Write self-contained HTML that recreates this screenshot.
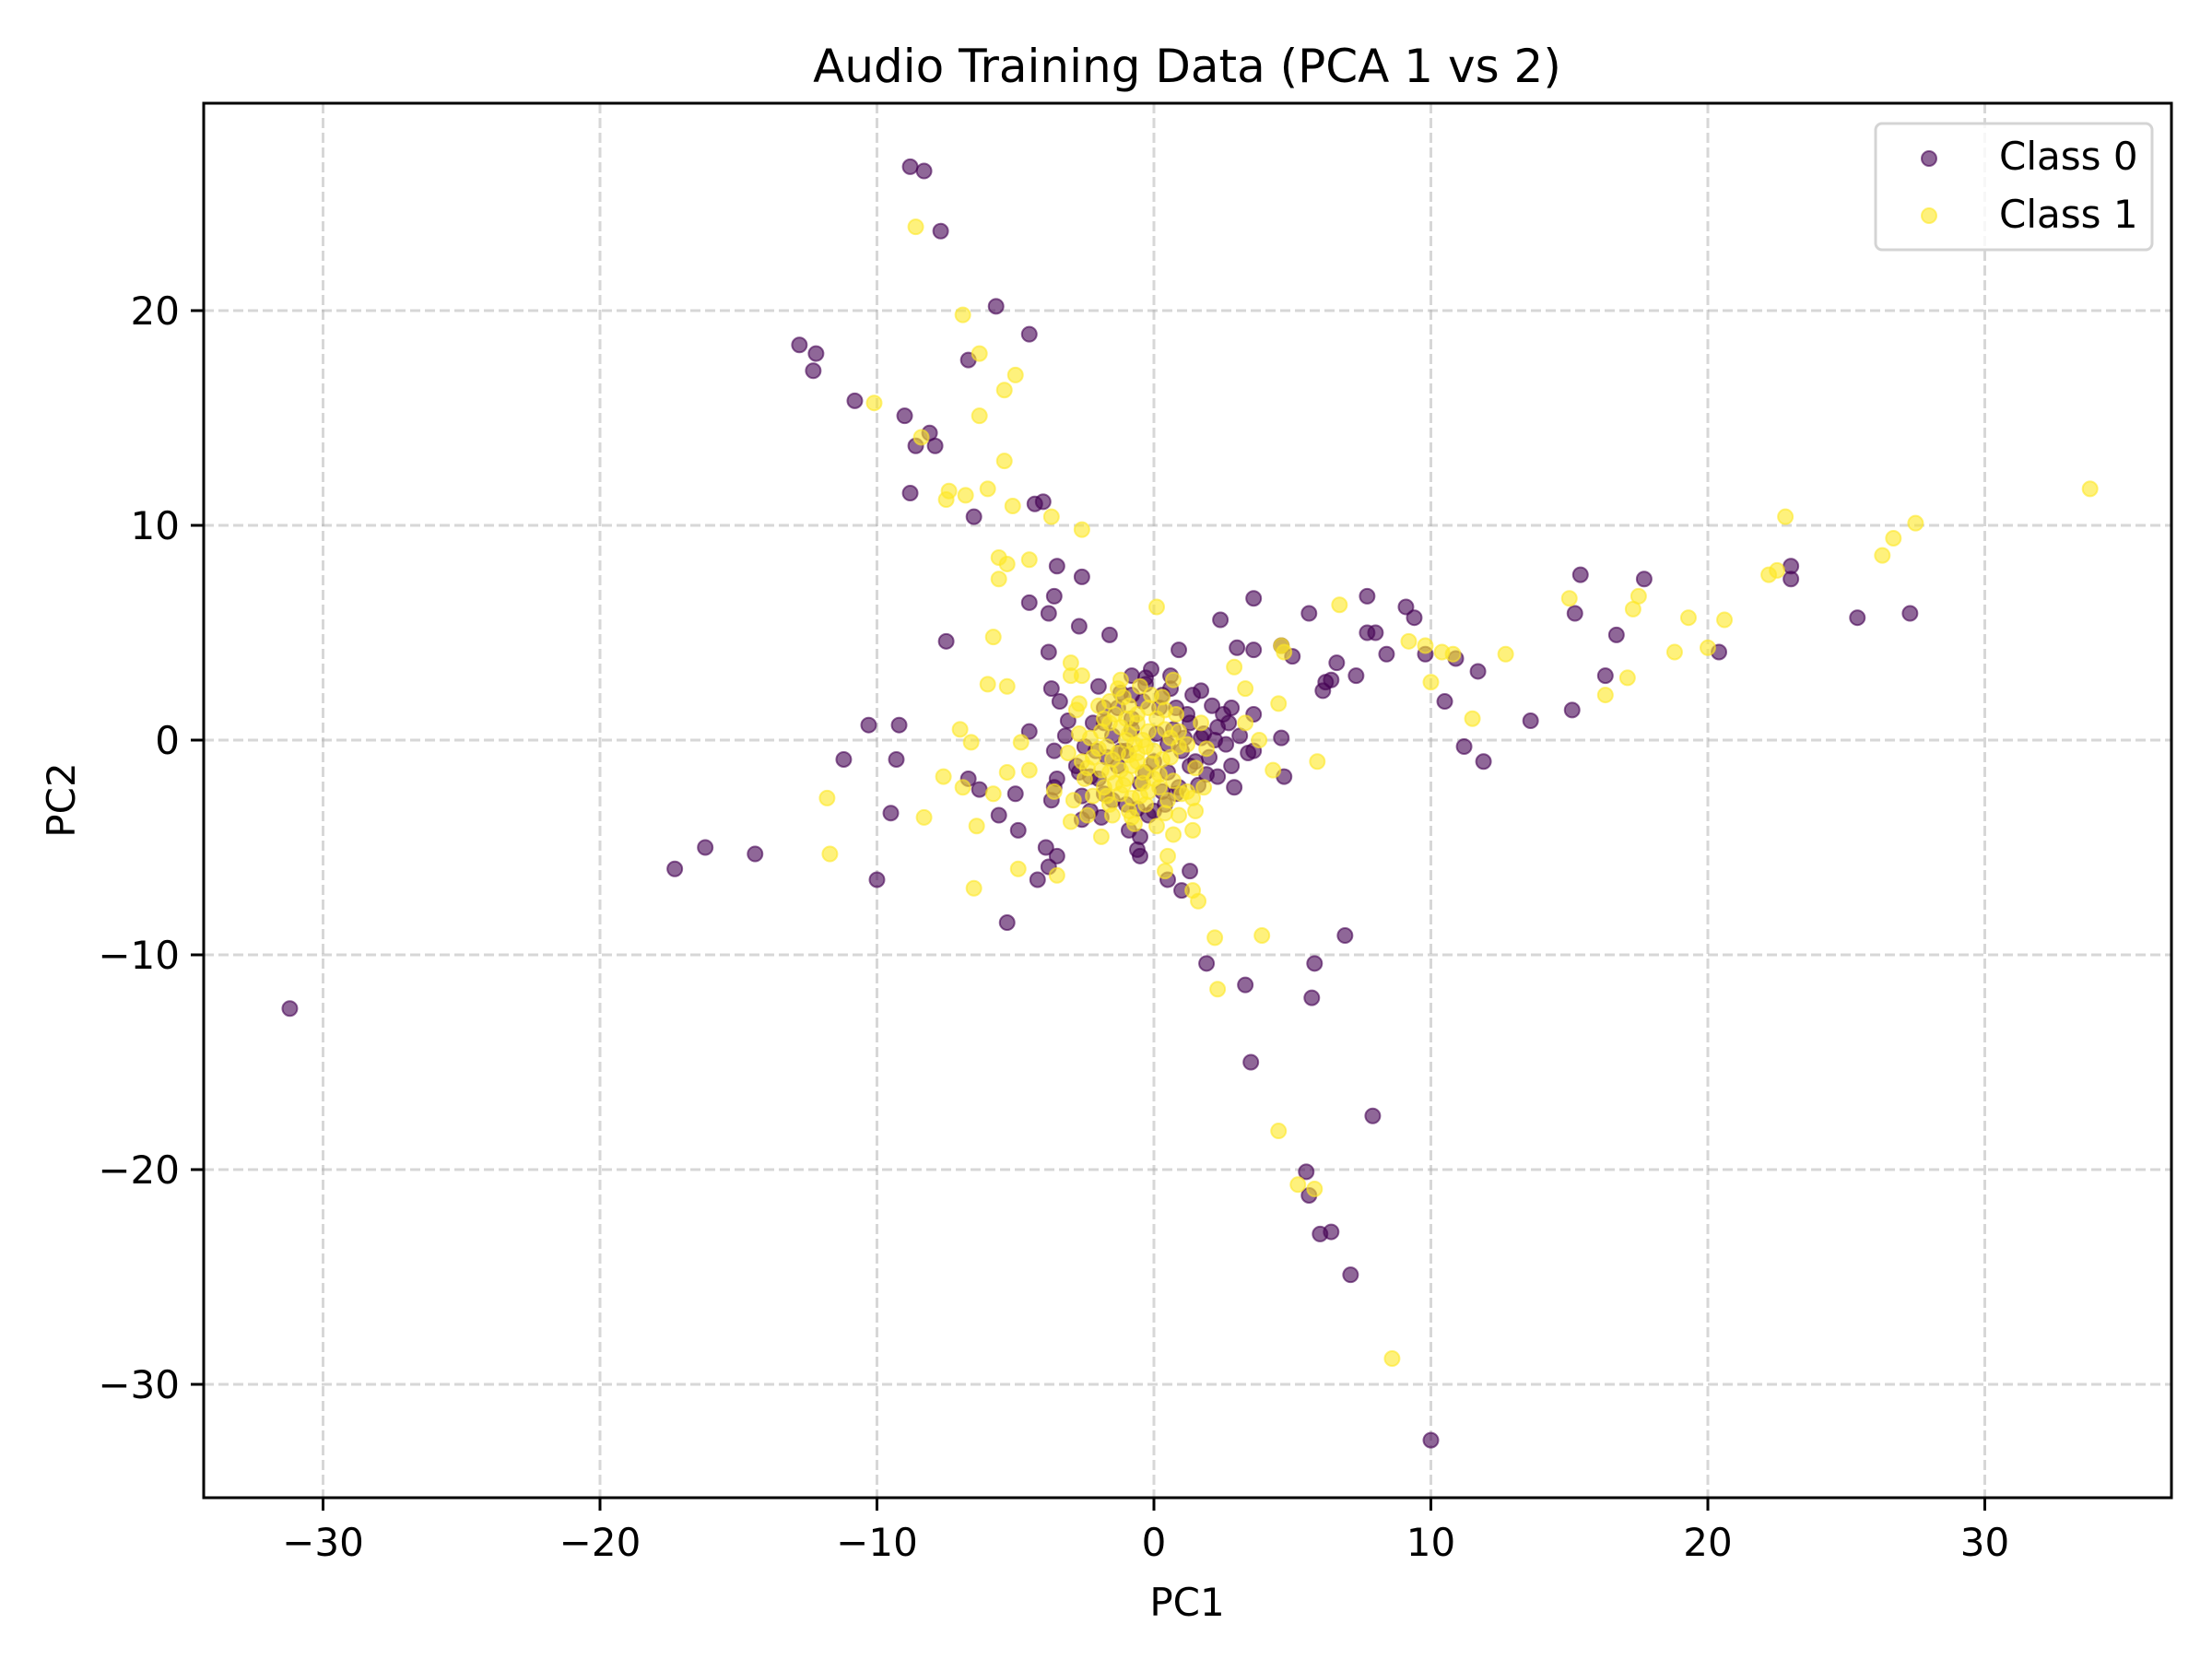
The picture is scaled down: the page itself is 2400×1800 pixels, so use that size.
<!DOCTYPE html>
<html><head><meta charset="utf-8"><style>
body{margin:0;background:#fff}
svg{display:block;font-family:"DejaVu Sans","Liberation Sans",sans-serif}
</style></head><body>
<svg id="chart" width="2400" height="1800" viewBox="0 0 2400 1800">
<rect x="0" y="0" width="2400" height="1800" fill="#fff"/>
<text x="1288" y="89" font-size="50" text-anchor="middle">Audio Training Data (PCA 1 vs 2)</text>
<g id="grid"></g><g id="pts"></g><g id="axes"></g>
<text x="1288" y="1753" font-size="42" text-anchor="middle">PC1</text>
<text x="0" y="0" font-size="42" text-anchor="middle" transform="translate(81,868) rotate(-90)">PC2</text>
<g>
<rect x="2035" y="134" width="300" height="137" rx="7" fill="#fff" fill-opacity="0.8" stroke="#d4d4d4" stroke-width="3"/>
<g><circle cx="2093" cy="172" r="8" fill="#440154" fill-opacity="0.6" stroke="#440154" stroke-opacity="0.6" stroke-width="2"/><text x="2169" y="184" font-size="42">Class 0</text></g>
<g><circle cx="2093" cy="234" r="8" fill="#fde725" fill-opacity="0.6" stroke="#fde725" stroke-opacity="0.6" stroke-width="2"/><text x="2169" y="247" font-size="42">Class 1</text></g>
</g>
</svg>
<script>
const xTicks=[-30,-20,-10,0,10,20,30];
const yTicks=[-30,-20,-10,0,10,20];
const class0=[[-8.8,26.7],[-8.3,26.5],[-7.7,23.7],[-5.7,20.2],[-4.5,18.9],[-12.8,18.4],[-12.2,18.0],[-12.3,17.2],[-6.7,17.7],[-10.8,15.8],[-9.0,15.1],[-8.1,14.3],[-8.6,13.7],[-7.9,13.7],[-8.8,11.5],[-6.5,10.4],[-4.3,11.0],[-4.0,11.1],[-3.5,8.1],[-2.6,7.6],[-4.5,6.4],[-3.6,6.7],[-2.7,5.3],[-7.5,4.6],[-1.6,4.9],[-3.8,4.1],[-10.3,0.7],[-9.2,0.7],[-11.2,-0.9],[-9.3,-0.9],[-9.5,-3.4],[-10.0,-6.5],[-6.7,-1.8],[-6.3,-2.3],[-17.3,-6.0],[-16.2,-5.0],[-14.4,-5.3],[-5.3,-8.5],[-4.2,-6.5],[-31.2,-12.5],
[3.6,6.6],[2.4,5.6],[5.6,5.9],[7.7,6.7],[9.1,6.2],[9.4,5.7],[8.0,5.0],[7.7,5.0],[9.8,4.0],[8.4,4.0],[6.6,3.6],[7.3,3.0],[6.2,2.7],[6.4,2.8],[6.1,2.3],[4.6,4.4],[5.0,3.9],[3.6,4.2],[3.0,4.3],[10.9,3.8],[11.7,3.2],[10.5,1.8],[11.2,-0.3],[11.9,-1.0],[13.6,0.9],[15.1,1.4],[15.2,5.9],[15.4,7.7],[16.7,4.9],[16.3,3.0],[17.7,7.5],[20.4,4.1],[23.0,8.1],[23.0,7.5],[25.4,5.7],[27.3,5.9],
[1.9,-10.4],[3.3,-11.4],[5.8,-10.4],[5.7,-12.0],[6.9,-9.1],[3.5,-15.0],[7.9,-17.5],[5.5,-20.1],[5.6,-21.2],[6.4,-22.9],[6.0,-23.0],[7.1,-24.9],[10.0,-32.6],[1.3,-6.1],[1.0,-7.0],[0.5,-6.5],[-0.6,-5.1],[-0.5,-5.4],
[2.8,1.5],[3.6,1.2],[4.6,0.1],[4.7,-1.7],[2.9,-2.2],[2.3,-1.7],[0.9,4.2],[1.7,2.3],[0.6,3.0],[2.2,0],[2.7,0.8],[1.7,0.1],[3.6,-0.5],
[-3.8,5.9],[-3.7,2.4],[-3.4,1.8],[-4.5,0.4],[-3.1,0.9],[-3.6,-0.5],[-3.7,-2.8],[-5.0,-2.5],[-5.6,-3.5],[-4.9,-4.2],[-3.9,-5.0],[-3.5,-5.4],[-3.8,-5.9],[-2.6,-3.7],[-3.6,-2.2],[-2.7,-1.5],[-2.1,-0.5],[-1.8,0.8],[-1.3,1.5],[-0.8,2.1],[-0.3,2.9],[0.3,2.1],[0.8,1.5],[1.3,0.8],[1.3,-1.2],[0.8,-2.5],[0,-3.3],[-1.0,-3.0],[-1.8,-2.5],[-2.3,-1.7],[-1.2,-0.5],[-0.8,0.5],[0.5,-0.2],[-0.3,-1.5],[-0.9,-4.2],[-0.5,-4.5],
[-2.5,-0.3],[-2.2,0.8],[-2,-1.8],[-1.8,1.5],[-1.5,-2.8],[-1.2,2.2],[-1,-0.5],[-0.8,1],[-0.5,-2],[-0.3,2.6],[0,-1],[0.2,1.5],[0.5,-1.5],[0.7,0.5],[1,-0.5],[1.2,1.2],[1.5,-1],[1.8,0.3],[2,-0.8],[2.3,0.6],[2.6,-0.2],[1.4,2.1],[0.9,-2.2],[-0.2,-3.5],[-1.5,0.2],[-2.8,-1.2],[-3.2,0.2],[-2.6,-2.6],[-1.9,-3.6],[-0.6,-3.2],[0.4,-3],[1.6,-2.1],[2.8,-1.2],[3.1,0.2],[2.1,1.6],[0.6,2.4],[-0.8,3],[-2,2.5],[-1.3,-1.2],[0.1,0.3],[-0.4,1.8],[1.1,0.1],[-1.7,-0.8],[0.3,-2.4],[-2.3,-3.3],[3.4,-0.6],[2.5,1.2],[-3.5,-1.8],[-0.1,3.3],[1.9,-1.6]];
const class1=[[-8.6,23.9],[-6.9,19.8],[-6.3,18.0],[-5.0,17.0],[-5.4,16.3],[-10.1,15.7],[-6.3,15.1],[-8.4,14.1],[-5.4,13.0],[-6.0,11.7],[-7.4,11.6],[-6.8,11.4],[-7.5,11.2],[-5.1,10.9],[-3.7,10.4],[-2.6,9.8],[-5.6,8.5],[-5.3,8.2],[-5.6,7.5],[-4.5,8.4],[-5.8,4.8],[-6.0,2.6],[-5.3,2.5],[-7.0,0.5],[-6.6,-0.1],[-7.6,-1.7],[-6.9,-2.2],[-11.8,-2.7],[-11.7,-5.3],[-8.3,-3.6],[-6.4,-4.0],[-6.5,-6.9],[-4.9,-6.0],[-3.5,-6.3],[-5.8,-2.5],[-5.3,-1.5],[-4.5,-1.4],[-4.8,-0.1],[-3.0,3.6],[-3.0,3.0],[-2.6,3.0],[-2.7,1.7],
[0.1,6.2],[6.7,6.3],[4.7,4.1],[4.6,4.4],[2.9,3.4],[3.3,2.4],[4.5,1.7],[9.8,4.4],[9.2,4.6],[10.4,4.1],[10.8,4.0],[10.0,2.7],[11.5,1.0],[12.7,4.0],[15.0,6.6],[17.3,6.1],[17.5,6.7],[17.1,2.9],[16.3,2.1],[18.8,4.1],[19.3,5.7],[20.0,4.3],[20.6,5.6],[22.2,7.7],[22.5,7.9],[22.8,10.4],[26.3,8.6],[26.7,9.4],[27.5,10.1],[33.8,11.7],[3.8,0],[4.3,-1.4],[5.9,-1.0],[3.3,0.8],
[1.6,-7.5],[2.2,-9.2],[2.3,-11.6],[3.9,-9.1],[4.5,-18.2],[5.2,-20.7],[5.8,-20.9],[8.6,-28.8],[1.4,-4.2],[1.2,-2.4],[0.7,-4.4],[0.5,-5.4],[0.4,-6.1],[1.4,-7.0],
[-2.2,-0.8],[-1.9,0.4],[-1.6,-1.5],[-1.4,1.2],[-1.2,-2.5],[-1,0],[-0.8,-1.2],[-0.6,0.8],[-0.4,-2],[-0.2,1.5],[0,-0.5],[0.2,-1.6],[0.4,0.5],[0.6,-0.8],[-1.1,2],[-0.3,-3],[-1.8,-2.2],[-2.5,-1.8],[-2.7,0.3],[0.8,1.2],[1,-2.5],[-0.9,-3.3],[-1.5,-3.5],[-2,1.6],[-0.5,2.5],[0.3,2],[1.2,-0.2],[-2.9,-2.8],[-0.7,-0.2],[-1.3,-0.6],[-0.1,-1.1],[-1.6,0.8],[-0.9,1.6],[-0.2,0.4],[-2.4,-3.5],[0.9,-3.5],[1.5,-3.3],[1.4,-2.7],[-3.1,-0.6],[0.7,2.8],[-1.2,2.8],[-2.8,1.4],[1.7,0.8],[0.1,-4],[-1.9,-4.5],[-3,-3.8],[-3.6,-2.4],[-1,-1.8],[-0.4,-1.5],[-1.7,-0.3],
[-1.5,-0.9],[-0.9,-0.7],[-0.3,-0.3],[0.3,-0.9],[-1.2,0.6],[-0.6,1.2],[0.1,1],[-1.9,-1.4],[-1.1,-2.1],[-0.5,-2.6],[0.2,-2.2],[0.7,-1.9],[-2.2,-2.6],[-1.6,-3],[-0.8,-2.7],[0.9,-0.3],[1.5,-1.3],[-2.3,0.1],[-1.6,1.8],[-0.1,2.1],[0.9,0.4],[-2.6,-1],[-0.7,-3.9],[0.4,-3.4],[1.8,-2.2],[-1.3,2.4],[0.4,1.4],[1.9,-0.4],
[-1.2,-1.4],[-0.6,-1.0],[0.0,-1.8],[-0.4,0.0],[-1.0,1.0],[-0.2,-2.4],[-1.4,-2.0],[-0.8,-3.6],[0.5,-2.8],[-2.0,-0.4],[-1.8,1.0],[0.6,0.1],[-0.6,-0.6],[-0.9,0.3],[-1.7,-2.6],[-2.4,-1.3]];

const L=221,R=2356,T=112,B=1625;
const X0=1252,XS=30.05,Y0=803,YS=23.3;
const sx=v=>X0+v*XS;
const sy=v=>Y0-v*YS;
const NS="http://www.w3.org/2000/svg";
function mk(tag,attrs,parent){const e=document.createElementNS(NS,tag);for(const k in attrs)e.setAttribute(k,attrs[k]);parent.appendChild(e);return e;}
const grid=document.getElementById('grid'),axes=document.getElementById('axes'),pts=document.getElementById('pts');
xTicks.forEach(t=>{const x=sx(t);
 const g=mk('line',{x1:x,x2:x,y1:T,y2:B,stroke:'#b0b0b0','stroke-opacity':0.5,'stroke-width':3,'stroke-dasharray':'11,5'},grid);
 
 
 const tk=mk('line',{x1:x,x2:x,y1:B,y2:B+14,stroke:'#000','stroke-width':3},axes);
 
 
 const tx=mk('text',{x:x,y:B+63,'font-size':42,'text-anchor':'middle'},axes);tx.textContent=(t<0?'\u2212'+(-t):t);
 
 
});
yTicks.forEach(t=>{const y=sy(t);
 const g=mk('line',{x1:L,x2:R,y1:y,y2:y,stroke:'#b0b0b0','stroke-opacity':0.5,'stroke-width':3,'stroke-dasharray':'11,5'},grid);
 
 
 const tk=mk('line',{x1:L-14,x2:L,y1:y,y2:y,stroke:'#000','stroke-width':3},axes);
 
 
 const tx=mk('text',{x:L-26,y:y+15,'font-size':42,'text-anchor':'end'},axes);tx.textContent=(t<0?'\u2212'+(-t):t);
 
 
});
const fr=mk('rect',{x:L,y:T,width:R-L,height:B-T,fill:'none',stroke:'#000','stroke-width':3},axes);


[[class0,'#440154','class-0-point'],[class1,'#fde725','class-1-point']].forEach(([arr,c,n])=>{
 arr.forEach(p=>{const e=mk('circle',{cx:sx(p[0]),cy:sy(p[1]),r:8,fill:c,'fill-opacity':0.6,stroke:c,'stroke-opacity':0.6,'stroke-width':2},pts);
 
 });
});
</script>
</body></html>
